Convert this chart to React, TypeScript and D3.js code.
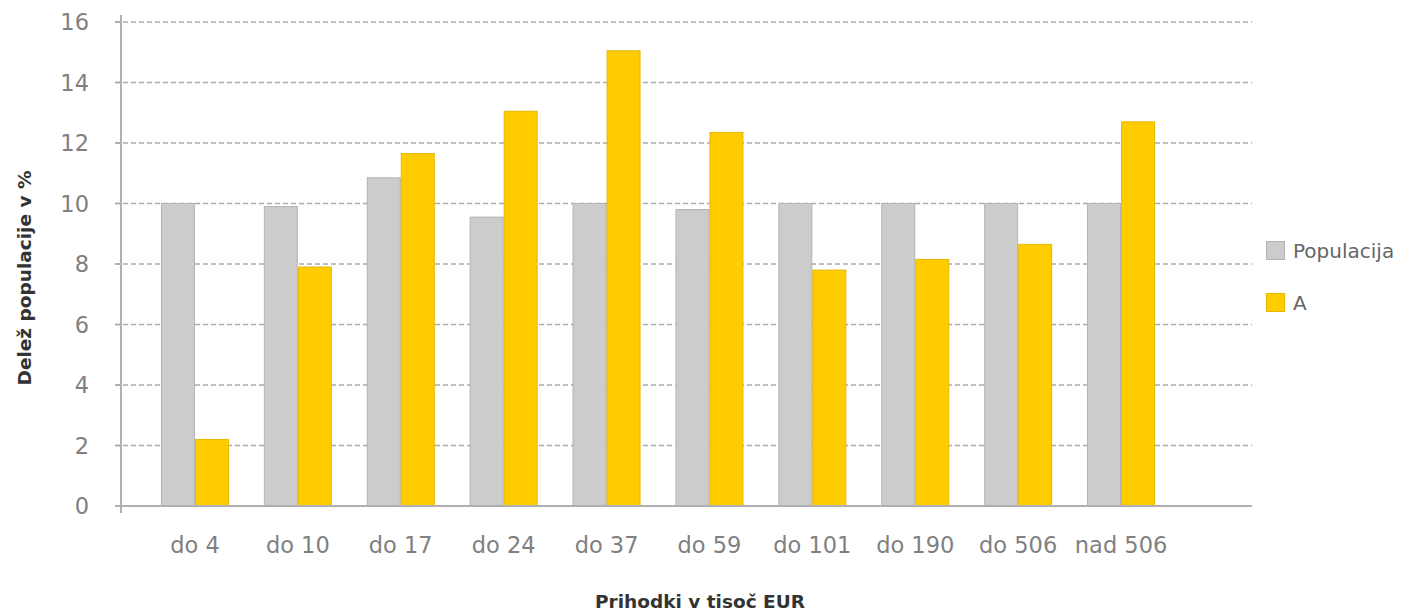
import React from "react";
import * as d3 from "d3";

const categories = ["do 4", "do 10", "do 17", "do 24", "do 37", "do 59", "do 101", "do 190", "do 506", "nad 506"];
const populacija = [10, 9.9, 10.85, 9.55, 10, 9.8, 10, 10, 10, 10];
const seriesA = [2.2, 7.9, 11.65, 13.05, 15.05, 12.35, 7.8, 8.15, 8.65, 12.7];
const yTicks = [0, 2, 4, 6, 8, 10, 12, 14, 16];
const seriesNames = ["Populacija", "A"];

const colors = ["#cccccc", "#ffcc00"];
const strokes = ["#b3b3b3", "#e6b800"];

const App = () => {
  const width = 1401;
  const height = 613;
  const axisX = 121;
  const plotRight = 1252;
  const y = d3.scaleLinear().domain([0, 16]).range([506, 22]);
  const x = d3.scaleBand().domain(categories).range([143.5, 1172.5]);
  const mid = x.bandwidth() / 2;
  const inner = d3.scaleBand().domain(seriesNames).range([mid - 33.5, mid + 33.5]).paddingInner(0.03);
  const values = [populacija, seriesA];
  const font = "'DejaVu Sans', Verdana, sans-serif";

  return (
    <svg width={width} height={height} style={{ position: "absolute", left: 0, top: 0 }}>
      <rect width={width} height={height} fill="#fff" />
      {yTicks.map(t => (
        <g key={t}>
          {t > 0 && (
            <line x1={115} x2={plotRight} y1={y(t)} y2={y(t)} stroke="#aaaaaa" strokeWidth={1.5} strokeDasharray="5,3" />
          )}
          <line x1={115} x2={axisX} y1={y(t)} y2={y(t)} stroke="#aaaaaa" strokeWidth={1.5} />
          <text x={89} y={y(t)} dy="0.36em" textAnchor="end" fontFamily={font} fontSize={22.5} fill="#808080">{t}</text>
        </g>
      ))}
      {categories.map((c, i) => (
        <g key={c}>
          {values.map((vals, s) => (
            <rect
              key={s}
              x={(x(c) as number) + (inner(seriesNames[s]) as number)}
              y={y(vals[i])}
              width={inner.bandwidth()}
              height={y(0) - y(vals[i])}
              fill={colors[s]}
              stroke={strokes[s]}
              strokeWidth={1}
            />
          ))}
          <text x={(x(c) as number) + mid} y={553} textAnchor="middle" fontFamily={font} fontSize={22.5} fill="#808080">{c}</text>
        </g>
      ))}
      <line x1={axisX} x2={axisX} y1={15} y2={513} stroke="#b0b0b0" strokeWidth={2} />
      <line x1={115} x2={plotRight} y1={506} y2={506} stroke="#b0b0b0" strokeWidth={2} />
      {seriesNames.map((n, s) => (
        <g key={n} transform={`translate(1266, ${241 + s * 52})`}>
          <rect x={0.5} y={0.5} width={18} height={18} fill={colors[s]} stroke={strokes[s]} />
          <text x={27} y={10} dy="0.36em" fontFamily={font} fontSize={20} fill="#666">{n}</text>
        </g>
      ))}
      <text x={700} y={608} textAnchor="middle" fontFamily={font} fontSize={18.5} fontWeight="bold" fill="#333">Prihodki v tisoč EUR</text>
      <text transform="translate(31, 278) rotate(-90)" textAnchor="middle" fontFamily={font} fontSize={18.5} fontWeight="bold" fill="#333">Delež populacije v %</text>
    </svg>
  );
};

export default App;
